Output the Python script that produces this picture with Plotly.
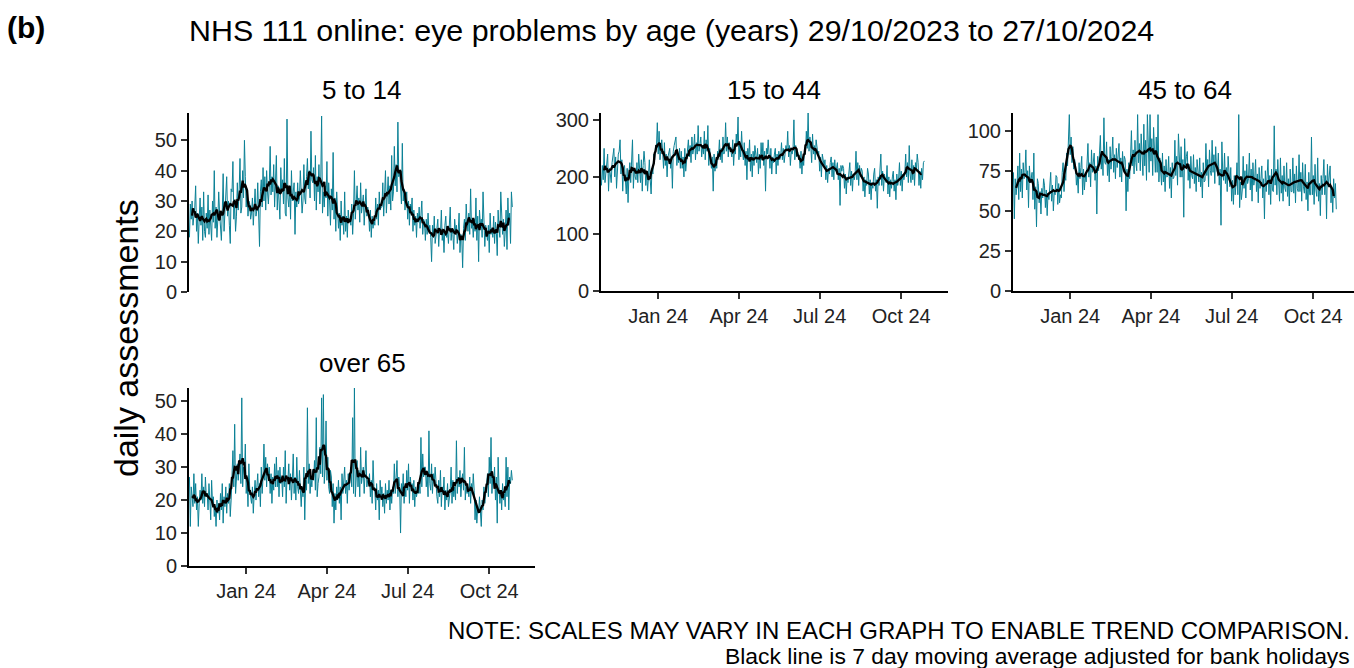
import pandas as pd
import plotly.graph_objects as go

# ---------------- data (daily assessments, 29/10/2023 .. 27/10/2024) ----------------
start_date = "2023-10-29"
end_date = "2024-10-27"

age_5_14 = [
    18, 29, 24, 30, 22, 25, 28,
    35, 20, 26, 16, 24, 31, 22,
    28, 17, 33, 20, 18, 26, 21,
    32, 19, 27, 22, 17, 30, 23,
    40, 21, 28, 18, 24, 33, 26,
    22, 17, 26, 39, 20, 27, 30,
    38, 25, 30, 22, 16, 34, 33,
    43, 24, 29, 20, 25, 36, 27,
    33, 44, 26, 28, 40, 31, 50,
    38, 28, 34, 25, 30, 29, 24,
    26, 31, 22, 28, 34, 25, 27,
    36, 24, 15, 33, 37, 28, 41,
    30, 38, 27, 40, 33, 29, 35,
    48, 32, 38, 33, 42, 28, 39,
    45, 27, 35, 30, 24, 41, 33,
    37, 29, 44, 26, 25, 57, 31,
    28, 35, 24, 40, 30, 33, 36,
    19, 33, 28, 36, 29, 31, 40,
    35, 26, 30, 42, 31, 29, 38,
    44, 34, 40, 31, 53, 37, 36,
    41, 30, 45, 27, 38, 33, 42,
    29, 36, 58, 26, 33, 28, 35,
    31, 43, 25, 36, 30, 22, 34,
    27, 46, 24, 31, 20, 33, 28,
    21, 26, 17, 30, 22, 25, 19,
    33, 20, 25, 18, 27, 23, 24,
    22, 29, 19, 26, 40, 24, 28,
    35, 27, 31, 23, 36, 26, 30,
    32, 22, 29, 34, 25, 28, 26,
    20, 27, 18, 25, 21, 24, 22,
    31, 24, 29, 22, 33, 27, 28,
    28, 36, 25, 32, 40, 26, 31,
    38, 29, 35, 27, 45, 30, 33,
    48, 35, 42, 33, 56, 38, 40,
    36, 29, 49, 30, 34, 27, 31,
    33, 24, 30, 22, 29, 26, 31,
    20, 27, 22, 25, 18, 26, 23,
    28, 21, 25, 30, 19, 24, 23,
    17, 24, 19, 26, 20, 22, 18,
    10, 22, 18, 25, 16, 20, 21,
    24, 15, 21, 19, 27, 17, 20,
    13, 22, 25, 18, 20, 16, 23,
    28, 17, 21, 19, 14, 24, 20,
    22, 16, 20, 26, 13, 19, 18,
    8, 21, 24, 17, 29, 23, 20,
    26, 19, 34, 21, 23, 18, 24,
    20, 31, 17, 25, 10, 27, 22,
    24, 18, 33, 19, 15, 22, 20,
    17, 22, 13, 26, 19, 21, 18,
    25, 16, 23, 20, 12, 27, 21,
    18, 33, 22, 19, 24, 15, 20,
    27, 14, 31, 22, 26, 16, 33,
    28,
]

age_15_44 = [
    185, 220, 195, 250, 190, 210, 230,
    240, 175, 215, 205, 190, 225, 235,
    250, 200, 235, 180, 220, 240, 245,
    265, 205, 230, 175, 215, 220, 200,
    170, 215, 155, 205, 225, 190, 230,
    265, 180, 215, 200, 195, 225, 190,
    240, 205, 190, 230, 175, 220, 245,
    225, 185, 210, 175, 200, 230, 195,
    170, 215, 205, 240, 230, 255, 250,
    295, 240, 280, 230, 250, 265, 245,
    215, 260, 220, 240, 200, 235, 245,
    250, 215, 235, 180, 245, 255, 265,
    270, 220, 240, 225, 250, 215, 245,
    215, 235, 200, 250, 210, 225, 245,
    265, 235, 255, 225, 270, 240, 250,
    275, 230, 260, 240, 290, 245, 255,
    270, 235, 255, 240, 280, 230, 265,
    245, 290, 220, 250, 230, 215, 235,
    175, 240, 210, 230, 215, 245, 235,
    265, 230, 250, 225, 270, 240, 245,
    295, 245, 270, 235, 260, 250, 245,
    235, 265, 220, 250, 240, 275, 255,
    305, 230, 255, 235, 280, 245, 230,
    260, 220, 245, 195, 250, 230, 265,
    210, 240, 200, 245, 220, 255, 235,
    225, 250, 205, 240, 215, 260, 230,
    260, 220, 245, 175, 250, 240, 265,
    240, 215, 250, 205, 235, 225, 240,
    250, 205, 240, 220, 245, 230, 235,
    260, 230, 250, 225, 240, 255, 245,
    280, 235, 255, 220, 245, 240, 250,
    300, 230, 255, 235, 245, 240, 235,
    215, 245, 205, 235, 220, 250, 240,
    280, 250, 312, 245, 270, 255, 225,
    275, 240, 255, 230, 265, 245, 240,
    245, 210, 235, 200, 240, 225, 220,
    230, 195, 220, 190, 215, 205, 225,
    235, 200, 225, 195, 230, 210, 215,
    225, 195, 215, 150, 220, 210, 220,
    215, 180, 205, 170, 200, 190, 210,
    225, 185, 210, 175, 205, 195, 205,
    245, 195, 225, 185, 220, 200, 215,
    210, 175, 200, 165, 195, 185, 215,
    205, 170, 195, 160, 190, 180, 205,
    215, 175, 195, 145, 200, 185, 215,
    240, 185, 210, 175, 205, 195, 190,
    220, 170, 200, 165, 195, 180, 200,
    210, 175, 195, 160, 205, 185, 195,
    225, 185, 210, 175, 205, 195, 205,
    240, 200, 225, 190, 255, 205, 190,
    230, 195, 220, 185, 225, 210, 240,
    225, 185, 210, 180, 215, 195, 225,
    228,
]

age_45_64 = [
    74, 45, 70, 60, 66, 78, 57,
    86, 62, 76, 58, 80, 70, 74,
    88, 63, 75, 52, 78, 68, 70,
    74, 57, 86, 51, 65, 40, 70,
    67, 55, 62, 48, 64, 58, 70,
    66, 52, 63, 47, 61, 57, 68,
    74, 56, 66, 50, 62, 60, 72,
    71, 54, 67, 55, 60, 58, 74,
    80, 62, 72, 69, 86, 78, 95,
    110, 85, 96, 80, 90, 76, 82,
    78, 66, 72, 61, 80, 70, 77,
    84, 60, 76, 63, 72, 68, 78,
    92, 71, 80, 65, 88, 74, 79,
    86, 69, 78, 48, 84, 75, 90,
    97, 76, 87, 72, 108, 80, 79,
    93, 72, 82, 68, 90, 76, 84,
    96, 74, 85, 70, 89, 77, 83,
    92, 71, 83, 68, 87, 75, 84,
    82, 50, 76, 62, 80, 70, 83,
    100, 78, 88, 73, 94, 80, 75,
    110, 80, 92, 75, 98, 82, 72,
    104, 78, 94, 69, 110, 80, 74,
    110, 81, 95, 72, 102, 84, 74,
    96, 74, 110, 68, 83, 77, 66,
    86, 68, 78, 62, 82, 71, 72,
    84, 64, 77, 58, 80, 70, 71,
    94, 72, 84, 66, 98, 75, 71,
    90, 71, 82, 46, 95, 78, 84,
    87, 69, 79, 64, 84, 72, 70,
    85, 67, 77, 62, 82, 70, 68,
    83, 65, 74, 58, 80, 68, 69,
    92, 72, 82, 65, 88, 75, 72,
    94, 74, 85, 67, 90, 76, 74,
    86, 66, 76, 41, 93, 73, 69,
    86, 67, 77, 62, 84, 70, 65,
    77, 56, 69, 54, 72, 60, 67,
    80, 60, 110, 52, 68, 57, 63,
    84, 64, 75, 58, 79, 67, 70,
    86, 63, 76, 56, 80, 66, 70,
    82, 62, 73, 55, 77, 64, 70,
    78, 58, 70, 45, 75, 62, 74,
    82, 60, 72, 54, 76, 63, 62,
    103, 66, 76, 60, 82, 68, 56,
    83, 61, 72, 56, 78, 64, 62,
    80, 59, 70, 53, 76, 62, 62,
    83, 61, 73, 55, 78, 64, 62,
    85, 62, 74, 56, 80, 65, 61,
    79, 57, 68, 50, 74, 60, 60,
    96, 60, 72, 54, 79, 63, 59,
    83, 56, 67, 47, 72, 60, 70,
    82, 60, 72, 45, 79, 65, 73,
    78, 55, 64, 49, 70, 58, 67,
    51,
]

age_over_65 = [
    27, 12, 24, 20, 18, 28, 19,
    25, 17, 21, 12, 19, 23, 20,
    28, 19, 24, 18, 27, 21, 22,
    17, 25, 20, 14, 26, 19, 21,
    15, 18, 12, 20, 16, 19, 14,
    22, 17, 25, 13, 21, 18, 24,
    16, 22, 19, 25, 15, 20, 27,
    35, 24, 43, 22, 28, 31, 26,
    29, 34, 25, 51, 24, 30, 28,
    37, 22, 26, 18, 31, 23, 20,
    19, 24, 16, 22, 26, 20, 23,
    28, 21, 25, 18, 30, 22, 27,
    37, 26, 33, 24, 31, 27, 30,
    22, 28, 19, 27, 23, 31, 24,
    33, 24, 29, 21, 30, 25, 27,
    21, 30, 24, 35, 19, 27, 26,
    31, 23, 28, 20, 26, 34, 22,
    27, 20, 33, 24, 22, 29, 25,
    18, 24, 21, 30, 14, 26, 23,
    48, 25, 31, 22, 27, 24, 29,
    26, 32, 23, 45, 21, 25, 27,
    36, 28, 51, 27, 52, 25, 30,
    44, 26, 33, 24, 22, 29, 27,
    18, 25, 13, 22, 17, 24, 20,
    26, 19, 24, 14, 28, 22, 25,
    30, 22, 26, 19, 28, 23, 27,
    30, 24, 45, 22, 54, 21, 26,
    32, 24, 29, 21, 36, 25, 28,
    30, 22, 27, 35, 24, 26, 25,
    28, 21, 26, 19, 32, 24, 23,
    17, 25, 20, 23, 14, 26, 21,
    24, 18, 22, 16, 25, 19, 23,
    20, 26, 17, 23, 19, 24, 22,
    31, 22, 28, 32, 21, 27, 24,
    10, 25, 22, 28, 19, 24, 21,
    29, 23, 31, 19, 27, 24, 25,
    20, 26, 18, 24, 21, 23, 22,
    25, 22, 39, 24, 34, 27, 30,
    30, 24, 28, 21, 41, 25, 23,
    31, 22, 28, 25, 30, 24, 21,
    19, 26, 21, 29, 18, 24, 22,
    27, 17, 23, 20, 25, 18, 21,
    23, 30, 19, 26, 21, 24, 20,
    38, 22, 27, 24, 29, 21, 26,
    28, 23, 36, 20, 25, 22, 24,
    21, 27, 19, 25, 22, 28, 23,
    14, 20, 13, 18, 16, 21, 15,
    12, 20, 17, 24, 19, 22, 26,
    28, 21, 33, 25, 39, 22, 27,
    25, 30, 20, 27, 13, 33, 24,
    19, 23, 17, 25, 20, 22, 18,
    33, 21, 30, 17, 27, 25, 29,
    26,
]

panel_titles = ["5 to 14", "15 to 44", "45 to 64", "over 65"]
tick_dates = ["2024-01-01", "2024-04-01", "2024-07-01", "2024-10-01"]
tick_text = ["Jan 24", "Apr 24", "Jul 24", "Oct 24"]
y_ticks = [[0, 10, 20, 30, 40, 50], [0, 100, 200, 300], [0, 25, 50, 75, 100], [0, 10, 20, 30, 40, 50]]
y_max = [59, 312, 111, 54]

# ---------------- figure ----------------
W, H = 1354, 668
FONT = "Liberation Sans, Arial, sans-serif"
TEAL = "#0b8196"

dates = pd.date_range(start_date, end_date, freq="D")
series = [age_5_14, age_15_44, age_45_64, age_over_65]
for s in series:
    assert len(s) == len(dates), len(s)


def px_x(v):
    return v / W


def px_y(v):
    return 1 - v / H


# panel boxes in pixels: (left, right, top, bottom)
boxes = [(189, 535, 113, 292), (601, 948, 113, 291), (1013, 1354, 113, 291), (189, 535, 388, 566)]
PX_PER_DAY = 0.887
axis_start = pd.Timestamp(start_date) - pd.Timedelta(hours=12)

fig = go.Figure()
for i, (vals, box) in enumerate(zip(series, boxes)):
    n = i + 1
    xa = "x" if n == 1 else f"x{n}"
    ya = "y" if n == 1 else f"y{n}"
    s = pd.Series(vals, index=dates, dtype=float)
    ma = s.rolling(7, center=True).mean()
    fig.add_trace(go.Scatter(x=dates, y=s.values, mode="lines", line=dict(color=TEAL, width=1.0),
                             xaxis=xa, yaxis=ya, hoverinfo="skip"))
    fig.add_trace(go.Scatter(x=dates, y=ma.values, mode="lines", line=dict(color="black", width=2.3),
                             xaxis=xa, yaxis=ya, hoverinfo="skip"))
    left, right, top, bottom = box
    axis_end = axis_start + pd.Timedelta(days=(right - left) / PX_PER_DAY)
    show_x = n != 1
    xkey = "xaxis" if n == 1 else f"xaxis{n}"
    ykey = "yaxis" if n == 1 else f"yaxis{n}"
    fig.layout[xkey] = dict(
        domain=[px_x(left), px_x(right)], anchor=ya, range=[axis_start, axis_end],
        automargin=False,
        showgrid=False, zeroline=False, showline=show_x, linecolor="black", linewidth=2,
        ticks="outside" if show_x else "", ticklen=6, tickwidth=1.5, tickcolor="#333333",
        tickvals=tick_dates, ticktext=tick_text, showticklabels=show_x,
        tickfont=dict(family=FONT, size=20, color="#222222"),
    )
    fig.layout[ykey] = dict(
        domain=[px_y(bottom), px_y(top)], anchor=xa, range=[0, y_max[i]],
        automargin=False,
        showgrid=False, zeroline=False, showline=True, linecolor="black", linewidth=2,
        ticks="outside", ticklen=6, tickwidth=1.5, tickcolor="#333333",
        tickvals=y_ticks[i], tickfont=dict(family=FONT, size=20, color="#222222"),
    )

annotations = []
title_pos = [(362, 90), (774, 90), (1185, 90), (362, 363)]
for t, (cx, cy) in zip(panel_titles, title_pos):
    annotations.append(dict(text=t, x=px_x(cx), y=px_y(cy), xref="paper", yref="paper",
                            showarrow=False, xanchor="center", yanchor="middle",
                            font=dict(family=FONT, size=26, color="black")))
annotations += [
    dict(text="NHS 111 online: eye problems by age (years) 29/10/2023 to 27/10/2024",
         x=px_x(671), y=px_y(30), xref="paper", yref="paper", showarrow=False,
         xanchor="center", yanchor="middle", font=dict(family=FONT, size=30.4, color="black")),
    dict(text="<b>(b)</b>", x=px_x(5), y=px_y(27), xref="paper", yref="paper", showarrow=False,
         xanchor="left", yanchor="middle", font=dict(family=FONT, size=30, color="black")),
    dict(text="daily assessments", x=px_x(126), y=px_y(338), xref="paper", yref="paper",
         showarrow=False, textangle=-90, xanchor="center", yanchor="middle",
         font=dict(family=FONT, size=34, color="black")),
    dict(text="NOTE: SCALES MAY VARY IN EACH GRAPH TO ENABLE TREND COMPARISON.",
         x=px_x(1352), y=px_y(630), xref="paper", yref="paper", showarrow=False,
         xanchor="right", yanchor="middle", font=dict(family=FONT, size=24, color="black")),
    dict(text="Black line is 7 day moving average adjusted for bank holidays",
         x=px_x(1352), y=px_y(655.5), xref="paper", yref="paper", showarrow=False,
         xanchor="right", yanchor="middle", font=dict(family=FONT, size=22.9, color="black")),
]

fig.update_layout(
    width=W, height=H, margin=dict(l=0, r=0, t=0, b=0, autoexpand=False),
    paper_bgcolor="white", plot_bgcolor="white", showlegend=False,
    annotations=annotations, font=dict(family=FONT),
)

fig.write_html("out.html", config={"displayModeBar": False},
               post_script="document.body.style.margin='0px';")
